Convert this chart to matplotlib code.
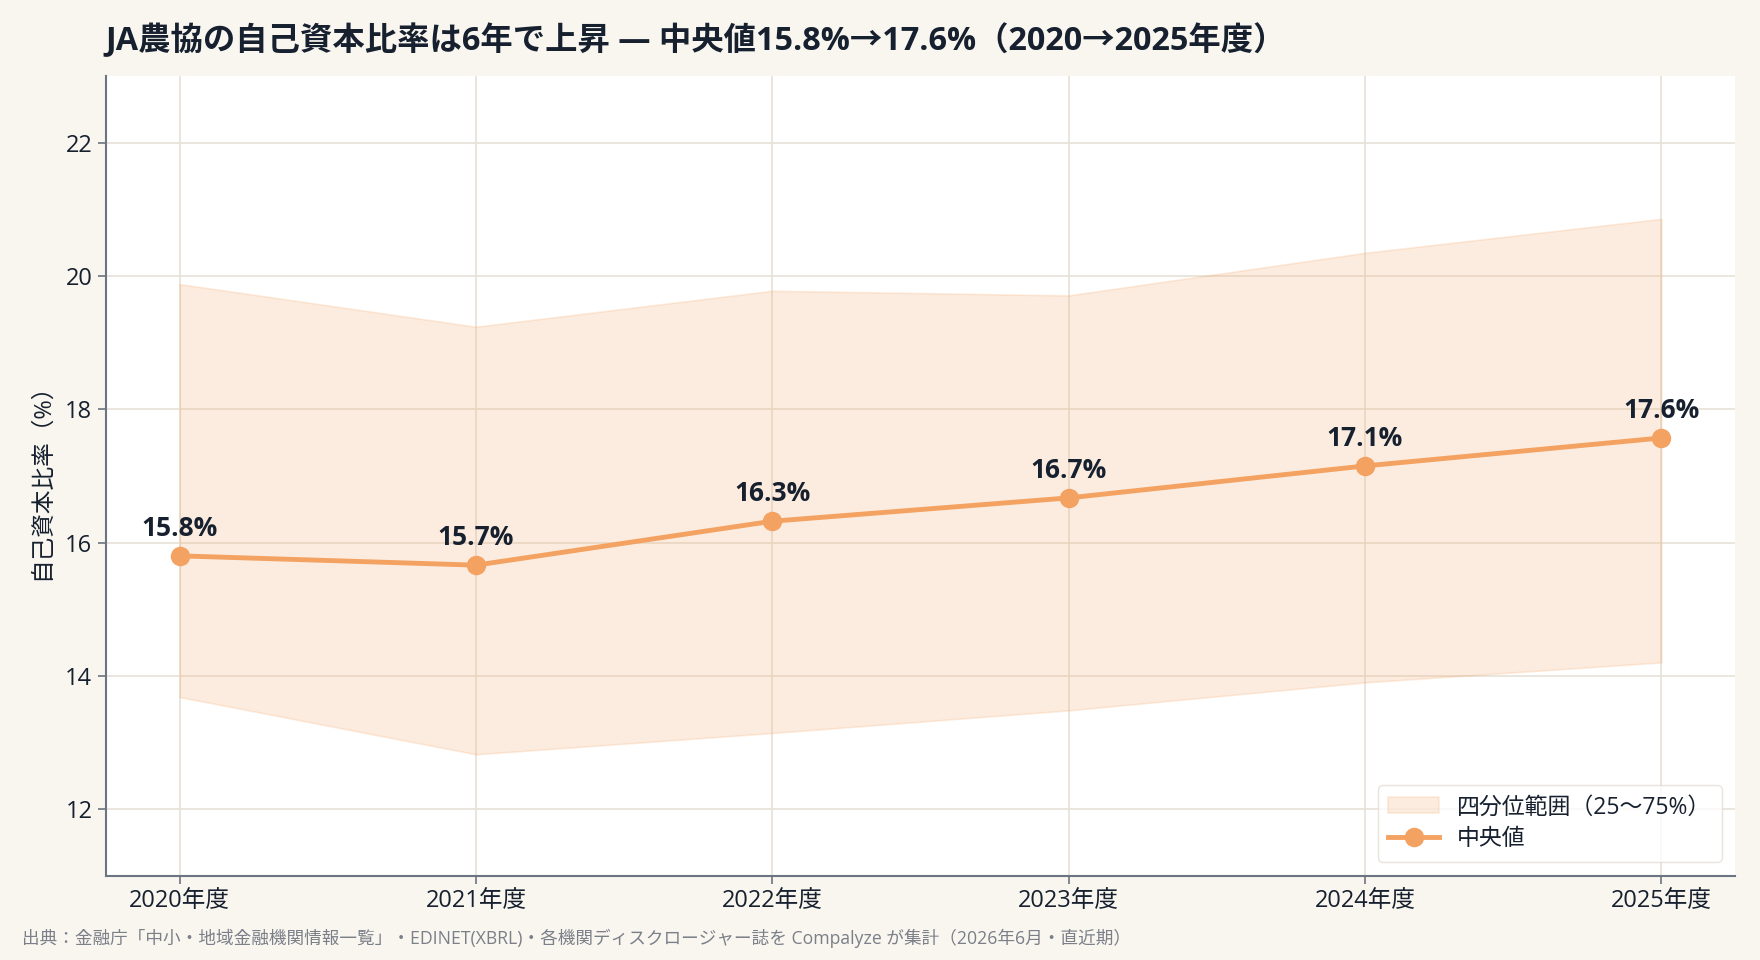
import matplotlib
matplotlib.use("Agg")
import matplotlib.pyplot as plt

plt.rcParams["font.family"] = ["Open Sans", "Noto Sans CJK JP", "DejaVu Sans"]

years = ["2020年度", "2021年度", "2022年度", "2023年度", "2024年度", "2025年度"]
median = [15.80, 15.66, 16.32, 16.67, 17.15, 17.57]
q75 = [19.88, 19.24, 19.78, 19.71, 20.35, 20.86]
q25 = [13.68, 12.82, 13.14, 13.48, 13.90, 14.20]
labels = ["15.8%", "15.7%", "16.3%", "16.7%", "17.1%", "17.6%"]

BG = "#f9f6f0"
ORANGE = "#f4a261"
TEXT = "#16202e"
GRID = "#e6e1d8"
SPINE = "#6b7480"


def main():
    fig = plt.figure(figsize=(17.6, 9.6), dpi=100, facecolor=BG)
    ax = fig.add_axes([0.06, 0.088, 0.926, 0.8325])
    ax.set_facecolor("white")

    x = list(range(len(years)))
    ax.fill_between(x, q25, q75, color=ORANGE, alpha=0.2, linewidth=1.2,
                    label="四分位範囲（25〜75%）", zorder=2)
    ax.plot(x, median, color=ORANGE, linewidth=3.5, marker="o",
            markersize=13, label="中央値", zorder=3)

    for xi, yi, lab in zip(x, median, labels):
        ax.annotate(lab, (xi, yi), xytext=(0, 10), textcoords="offset points",
                    ha="center", va="bottom", fontsize=19, fontweight="bold",
                    color=TEXT, zorder=4)

    ax.set_xlim(-0.25, 5.25)
    ax.set_ylim(11, 23)
    ax.set_yticks([12, 14, 16, 18, 20, 22])
    ax.set_xticks(x)
    ax.set_xticklabels(years)
    ax.tick_params(axis="both", labelsize=17, colors=TEXT, length=6,
                   width=1.2, color=SPINE)
    ax.tick_params(axis="x", pad=4)

    ax.grid(True, color=GRID, linewidth=1.2, zorder=1)
    ax.set_axisbelow(True)
    for side in ["top", "right"]:
        ax.spines[side].set_visible(False)
    for side in ["left", "bottom"]:
        ax.spines[side].set_color(SPINE)
        ax.spines[side].set_linewidth(1.5)

    ax.set_ylabel("自己資本比率（%）", fontsize=17, color=TEXT, labelpad=8)

    leg = ax.legend(loc="lower right", fontsize=16.5, frameon=True,
                    fancybox=True, borderpad=0.45, handlelength=2.2,
                    borderaxespad=0.6, labelspacing=0.35)
    leg.get_frame().set_edgecolor("#e3ded5")
    leg.get_frame().set_facecolor("white")
    for t in leg.get_texts():
        t.set_color(TEXT)

    fig.text(0.06, 0.958, "JA農協の自己資本比率は6年で上昇 ― 中央値15.8%→17.6%（2020→2025年度）",
             fontsize=23.3, fontweight="bold", color=TEXT, ha="left", va="center")
    fig.text(0.0125, 0.023,
             "出典：金融庁「中小・地域金融機関情報一覧」・EDINET(XBRL)・各機関ディスクロージャー誌を Compalyze が集計（2026年6月・直近期）",
             fontsize=12.7, color="#7a7f88", ha="left", va="center")

    fig.savefig("out.png", dpi=100, facecolor=BG)
    plt.close(fig)


if __name__ == "__main__":
    main()
